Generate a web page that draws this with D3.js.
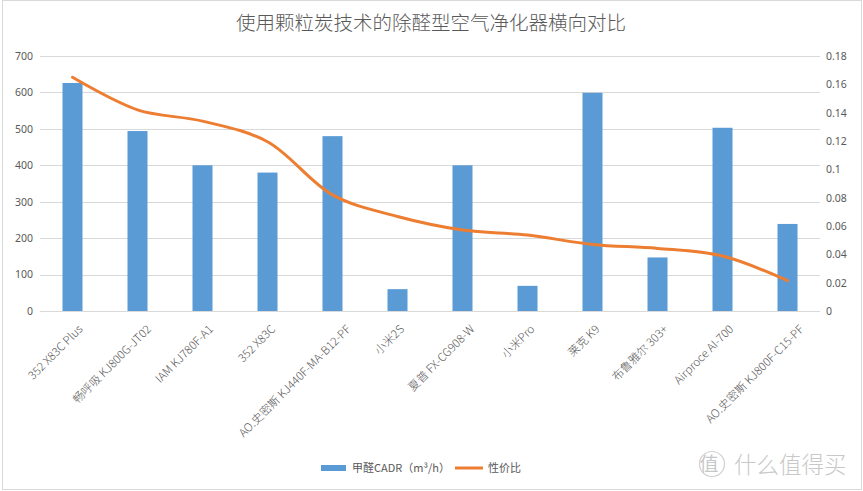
<html>
<head>
<meta charset="utf-8">
<script src="https://cdnjs.cloudflare.com/ajax/libs/d3/7.8.5/d3.min.js"></script>
<style>
body {
    margin: 0;
    background: white;
    font-family: "Noto Sans CJK SC", "Noto Sans", sans-serif;
}
</style>
</head>
<body>
<svg id="canvas" width="863" height="491"></svg>
<script>
// data
var categories = ["352 X83C Plus", "畅呼吸 KJ800G-JT02", "IAM KJ780F-A1", "352 X83C",
    "AO.史密斯 KJ440F-MA-B12-PF", "小米2S", "夏普 FX-CG908-W", "小米Pro", "莱克 K9",
    "布鲁雅尔 303+", "Airproce AI-700", "AO.史密斯 KJ800F-C15-PF"];
var cadr = [626, 494, 400, 380, 480, 60, 400, 69, 599, 147, 503, 239];
var ratio = [0.165, 0.142, 0.134, 0.1195, 0.082, 0.0667, 0.0572, 0.0536, 0.047, 0.0442, 0.0388, 0.0214];
var leftTicks = [0, 100, 200, 300, 400, 500, 600, 700];
var rightTicks = [0, 0.02, 0.04, 0.06, 0.08, 0.1, 0.12, 0.14, 0.16, 0.18];

var svg = d3.select("#canvas");
var grey = "#595959";

// frame
svg.append("rect").attr("x", 2.5).attr("y", 0.5).attr("width", 859).attr("height", 489)
    .attr("fill", "white").attr("stroke", "#d9d9d9");

var x = d3.scaleBand().domain(categories).range([40, 820]);
var yL = d3.scaleLinear().domain([0, 700]).range([311, 56]);
var yR = d3.scaleLinear().domain([0, 0.18]).range([311, 56]);

// title
svg.append("text").attr("x", 431).attr("y", 30).attr("text-anchor", "middle")
    .attr("font-size", 19.5).attr("font-weight", 300).attr("fill", grey)
    .text("使用颗粒炭技术的除醛型空气净化器横向对比");

// gridlines
svg.append("g").selectAll("line").data(leftTicks).join("line")
    .attr("x1", 40).attr("x2", 820)
    .attr("y1", d => Math.round(yL(d)) + 0.5).attr("y2", d => Math.round(yL(d)) + 0.5)
    .attr("stroke", "#d9d9d9");

// left axis
var axL = svg.append("g").attr("transform", "translate(33,0)")
    .call(d3.axisLeft(yL).tickValues(leftTicks).tickSize(0).tickPadding(0).tickFormat(d3.format("d")));
axL.select(".domain").remove();
axL.selectAll("text").attr("font-size", 10.5).attr("fill", grey).attr("font-family", "Noto Sans, sans-serif");

// right axis
var axR = svg.append("g").attr("transform", "translate(826,0)")
    .call(d3.axisRight(yR).tickValues(rightTicks).tickSize(0).tickPadding(0).tickFormat(d => String(+d.toFixed(2))));
axR.select(".domain").remove();
axR.selectAll("text").attr("font-size", 10.5).attr("fill", grey).attr("font-family", "Noto Sans, sans-serif");

// bars
var bw = 20;
svg.append("g").selectAll("rect").data(cadr).join("rect")
    .attr("x", (d, i) => x(categories[i]) + x.bandwidth() / 2 - bw / 2)
    .attr("y", d => yL(d))
    .attr("width", bw)
    .attr("height", d => yL(0) - yL(d))
    .attr("fill", "#5b9bd5");

// line
var line = d3.line()
    .x((d, i) => x(categories[i]) + x.bandwidth() / 2)
    .y(d => yR(d))
    .curve(d3.curveCatmullRom.alpha(0.5));
svg.append("path").datum(ratio).attr("d", line)
    .attr("fill", "none").attr("stroke", "#ed7d31").attr("stroke-width", 3)
    .attr("stroke-linejoin", "round").attr("stroke-linecap", "round");

// category labels (longer labels sit a bit further right, like excel does)
svg.append("g").selectAll("text").data(categories).join("text")
    .attr("text-anchor", "end").attr("dy", "0.35em")
    .attr("font-size", 11.5).attr("font-weight", 300).attr("fill", grey).text(d => d)
    .each(function(d) {
        var len = this.getComputedTextLength();
        var cx = x(d) + x.bandwidth() / 2 + 1 + len * 0.1;
        d3.select(this).attr("transform", "translate(" + cx + ",327) rotate(-45)");
    });

// legend
svg.append("rect").attr("x", 321).attr("y", 465).attr("width", 25).attr("height", 6).attr("fill", "#5b9bd5");
svg.append("text").attr("x", 352).attr("y", 472).attr("font-size", 11).attr("fill", grey).text("甲醛CADR（m³/h）");
svg.append("line").attr("x1", 455).attr("x2", 483).attr("y1", 468).attr("y2", 468)
    .attr("stroke", "#ed7d31").attr("stroke-width", 3);
svg.append("text").attr("x", 488).attr("y", 472).attr("font-size", 11).attr("fill", grey).text("性价比");

// watermark
svg.append("circle").attr("cx", 712).attr("cy", 464).attr("r", 12.5)
    .attr("fill", "none").attr("stroke", "#d0d0d0").attr("stroke-width", 1.2);
svg.append("text").attr("x", 709).attr("y", 471).attr("text-anchor", "middle")
    .attr("font-size", 19).attr("fill", "#c8c8c8").text("值");
svg.append("text").attr("x", 734).attr("y", 473).attr("font-size", 22.5).attr("fill", "#c8c8c8")
    .attr("font-weight", 300).text("什么值得买");
</script>
</body>
</html>
